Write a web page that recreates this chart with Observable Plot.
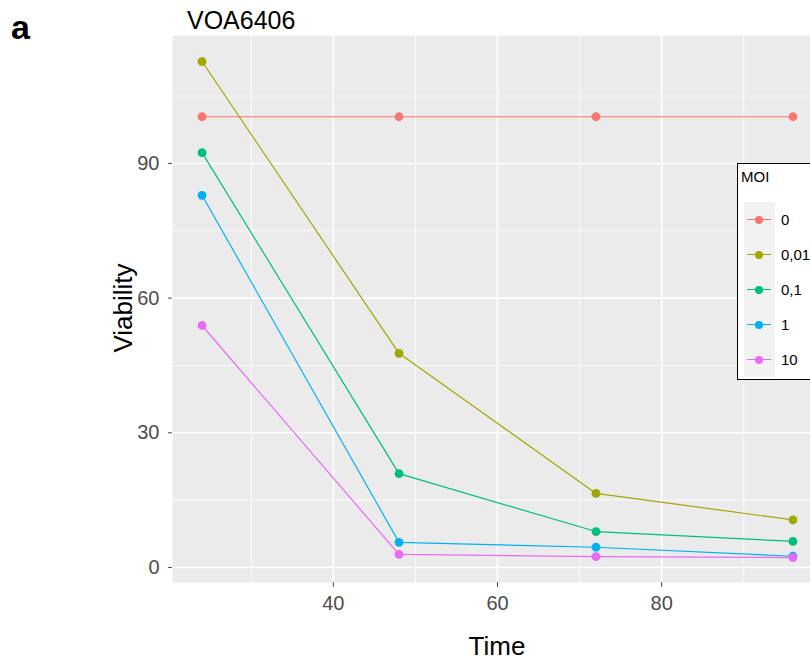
<!DOCTYPE html>
<html>
<head>
<meta charset="utf-8">
<script src="https://cdn.jsdelivr.net/npm/d3@7"></script>
<script src="https://cdn.jsdelivr.net/npm/@observablehq/plot@0.6"></script>
<style>
  html, body { margin: 0; padding: 0; background: #fff; overflow: hidden; }
  #wrap { position: relative; width: 810px; height: 662px; overflow: hidden; font-family: "Liberation Sans", Arial, sans-serif; }
  #chart { position: absolute; left: 0; top: 0; width: 830px; }
  #chart svg { max-width: none !important; }
  .abs { position: absolute; white-space: nowrap; color: #000; }
  #legend { position: absolute; left: 737px; top: 163px; width: 100px; height: 215px; border: 1.5px solid #000; background: #fff; }
  #legend .ttl { position: absolute; left: 3px; top: 4px; font-size: 15px; color: #000; }
  #legend .row { position: absolute; left: 0; height: 35px; width: 100px; }
  #legend .key { position: absolute; left: 6px; top: 0; width: 31px; height: 35px; background: #F2F2F2; }
  #legend .ln { position: absolute; left: 9px; top: 17px; width: 24px; height: 1.4px; }
  #legend .pt { position: absolute; left: 17px; top: 13.5px; width: 8px; height: 8px; border-radius: 50%; }
  #legend .lab { position: absolute; left: 43px; top: 9px; font-size: 15px; color: #000; }
</style>
</head>
<body>
<div id="wrap">
  <div id="chart"></div>
  <div class="abs" style="left:11px; top:8px; font-size:34px; font-weight:bold;">a</div>
  <div class="abs" style="left:187px; top:6px; font-size:25px;">VOA6406</div>
  <div class="abs" style="left:497px; top:646px; font-size:26px; transform:translate(-50%,-50%);">Time</div>
  <div class="abs" style="left:123px; top:308px; font-size:26px; transform:translate(-50%,-50%) rotate(-90deg);">Viability</div>
  <div id="legend"></div>
</div>
<script>
const times = [24, 48, 72, 96];
const moiLevels = ["0", "0,01", "0,1", "1", "10"];
const viabMoi0 = [100.4, 100.4, 100.4, 100.4];
const viabMoi001 = [112.7, 47.7, 16.5, 10.6];
const viabMoi01 = [92.4, 20.9, 8.0, 5.8];
const viabMoi1 = [82.9, 5.6, 4.5, 2.5];
const viabMoi10 = [53.9, 2.9, 2.4, 2.2];
const colors = ["#F8766D", "#A3A500", "#00BF7D", "#00B0F6", "#E76BF3"];
const yMajor = [0, 30, 60, 90];
const yMinor = [15, 45, 75, 105];
const xMajor = [40, 60, 80];
const xMinor = [30, 50, 70, 90];

const series = [viabMoi0, viabMoi001, viabMoi01, viabMoi1, viabMoi10];
const rows = [];
series.forEach((vals, i) => vals.forEach((v, j) => rows.push({moi: moiLevels[i], time: times[j], viability: v})));

const plot = Plot.plot({
  width: 830,
  height: 662,
  marginTop: 35,
  marginBottom: 80,
  marginLeft: 172,
  marginRight: 8,
  style: {fontFamily: '"Liberation Sans", Arial, sans-serif', background: "transparent", maxWidth: "none"},
  x: {domain: [20.4, 99.6]},
  y: {domain: [-3.35, 118.5]},
  color: {domain: moiLevels, range: colors},
  marks: [
    Plot.frame({fill: "#EBEBEB", stroke: null}),
    Plot.ruleY(yMinor, {stroke: "#fff", strokeWidth: 0.8}),
    Plot.ruleX(xMinor, {stroke: "#fff", strokeWidth: 0.8}),
    Plot.ruleY(yMajor, {stroke: "#fff", strokeWidth: 1.6}),
    Plot.ruleX(xMajor, {stroke: "#fff", strokeWidth: 1.6}),
    Plot.axisX({ticks: xMajor, tickSize: 5, tickPadding: 8, label: null, fontSize: 20, color: "#4D4D4D"}),
    Plot.axisY({ticks: yMajor, tickSize: 4, tickPadding: 9, label: null, fontSize: 20, color: "#4D4D4D"}),
    Plot.line(rows, {x: "time", y: "viability", z: "moi", stroke: "moi", strokeWidth: 1.2}),
    Plot.dot(rows, {x: "time", y: "viability", fill: "moi", r: 4.4, stroke: null})
  ]
});
document.getElementById("chart").appendChild(plot);

const legend = document.getElementById("legend");
const t = document.createElement("div");
t.className = "ttl"; t.textContent = "MOI";
legend.appendChild(t);
moiLevels.forEach((m, i) => {
  const row = document.createElement("div");
  row.className = "row";
  row.style.top = (38 + i * 35) + "px";
  row.innerHTML = `<div class="key"></div><div class="ln" style="background:${colors[i]}"></div><div class="pt" style="background:${colors[i]}"></div><div class="lab">${m}</div>`;
  legend.appendChild(row);
});
</script>
</body>
</html>
